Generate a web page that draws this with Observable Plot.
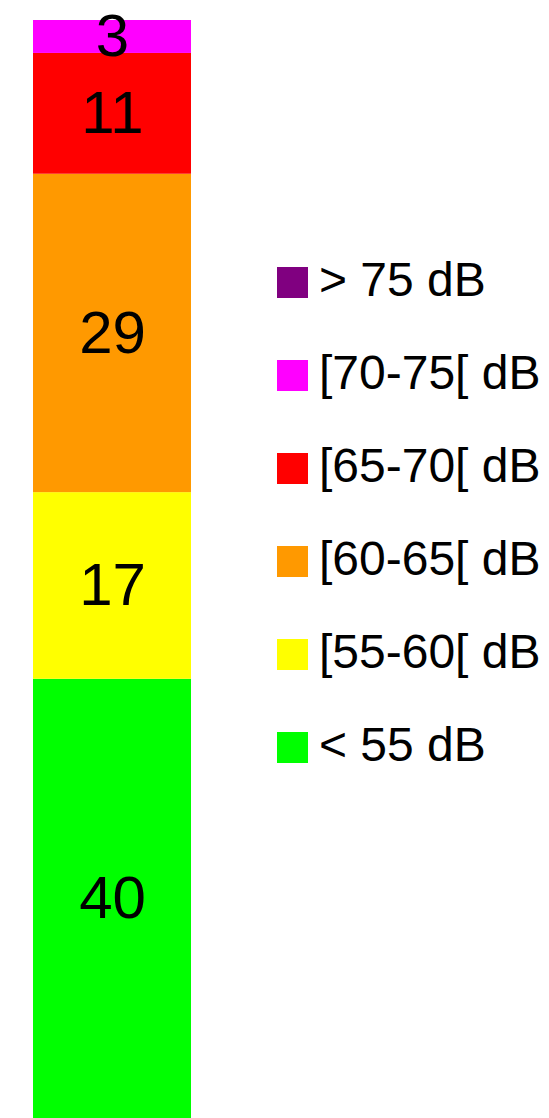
<!DOCTYPE html>
<html>
<head>
<meta charset="utf-8">
<script src="https://cdn.jsdelivr.net/npm/d3@7"></script>
<script src="https://cdn.jsdelivr.net/npm/@observablehq/plot@0.6"></script>
<style>
  html, body { margin: 0; padding: 0; background: #fff; }
  #wrap { position: relative; width: 549px; height: 1118px; overflow: hidden; font-family: "Liberation Sans", Arial, sans-serif; }
  #legend { position: absolute; left: 277px; top: 236px; }
  .row { display: flex; align-items: center; height: 93px; }
  .sw { width: 31px; height: 31px; flex: none; }
  .lab { margin-left: 11px; font-size: 48px; line-height: 1; color: #000; white-space: nowrap; position: relative; top: -3px; }
</style>
</head>
<body>
<div id="wrap"><div id="chart"></div><div id="legend"></div></div>
<script>
// Data (bottom to top of the stacked bar)
const categories = ["< 55 dB", "[55-60[ dB", "[60-65[ dB", "[65-70[ dB", "[70-75[ dB", "> 75 dB"];
const values = [40, 17, 29, 11, 3, 0];
const colors = ["#00ff00", "#ffff00", "#ff9900", "#ff0000", "#ff00ff", "#800080"];
// Legend order (top to bottom)
const legendOrder = ["> 75 dB", "[70-75[ dB", "[65-70[ dB", "[60-65[ dB", "[55-60[ dB", "< 55 dB"];

const data = categories.map((c, i) => ({group: "all", category: c, value: values[i], order: i}));

const plot = Plot.plot({
  width: 549,
  height: 1118,
  marginLeft: 33,
  marginRight: 358,
  marginTop: 20,
  marginBottom: 0,
  style: {fontFamily: '"Liberation Sans", Arial, sans-serif', background: "#fff"},
  x: {domain: ["all"], padding: 0, axis: null},
  y: {domain: [0, 100], axis: null},
  color: {domain: categories, range: colors},
  marks: [
    Plot.barY(data, Plot.stackY({x: "group", y: "value", fill: "category", order: "order"})),
    Plot.text(data.filter(d => d.value > 0), Plot.stackY({x: "group", y: "value", order: "order", text: d => String(d.value), fontSize: 60, fill: "#000"}))
  ]
});
document.getElementById("chart").appendChild(plot);

const colorOf = Object.fromEntries(categories.map((c, i) => [c, colors[i]]));
const legend = document.getElementById("legend");
legendOrder.forEach(c => {
  const row = document.createElement("div");
  row.className = "row";
  const sw = document.createElement("div");
  sw.className = "sw";
  sw.style.background = colorOf[c];
  const lab = document.createElement("span");
  lab.className = "lab";
  lab.textContent = c;
  row.appendChild(sw);
  row.appendChild(lab);
  legend.appendChild(row);
});
</script>
</body>
</html>
